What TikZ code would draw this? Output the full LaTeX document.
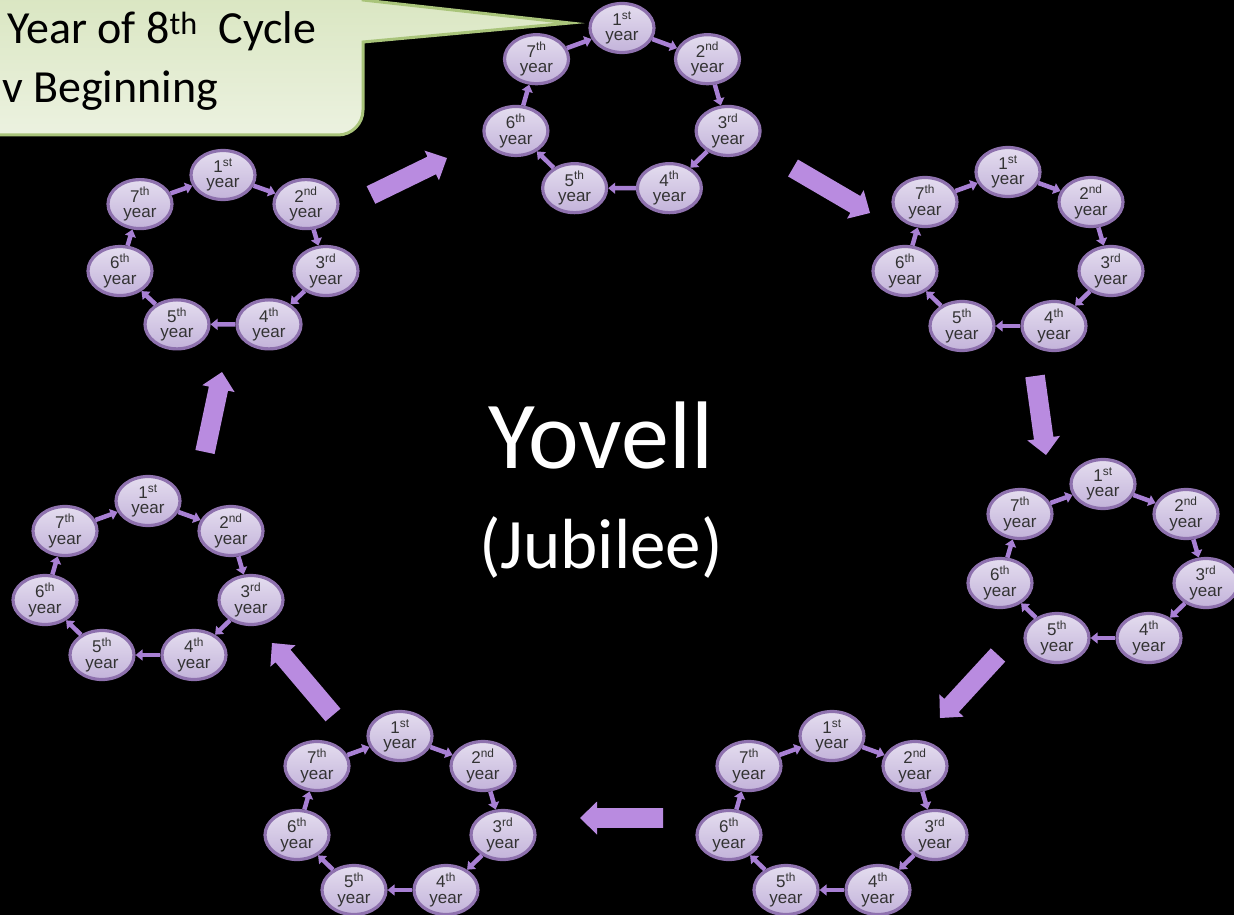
\documentclass[tikz,border=0pt]{standalone}
\usepackage{fontspec}
\setmainfont{Carlito}
\newfontfamily\arialf{Liberation Sans}
\usetikzlibrary{shapes.geometric,calc,arrows.meta}
\definecolor{yrtop}{HTML}{E4DDEF}
\definecolor{yrbot}{HTML}{C3B3DA}
\definecolor{ringc}{HTML}{8E71AE}
\definecolor{yrtext}{HTML}{333333}
\definecolor{linkc}{HTML}{A880D4}
\definecolor{bigc}{HTML}{B98BE0}
\definecolor{calt}{HTML}{D5E3BA}
\definecolor{calb}{HTML}{ECF2E0}
\definecolor{calborder}{HTML}{A9C47A}
\tikzset{
  yr/.style={ellipse, minimum width=64pt, minimum height=49pt, inner sep=0pt,
    draw=ringc, line width=3.2pt, top color=yrtop, bottom color=yrbot,
    font=\arialf\fontsize{17}{15.5}\selectfont, text=yrtext, align=center},
  smallarr/.style={draw=linkc, line width=4.5pt, -{Triangle[length=7pt,width=11pt]}},
  bigfill/.style={fill=bigc},
  bigtext/.style={text=white, anchor=base, inner sep=0pt},
  caltext/.style={text=black, anchor=base west, inner sep=0pt, font=\fontsize{46}{56}\selectfont},
}
\newcommand\yearcycle[5]{%
  \begin{scope}[shift={(#2,#3)}, xscale=#4, yscale=#5]
    \node[yr] (#1-1) at (0,0) {1\textsuperscript{st}\\year};
    \node[yr] (#1-2) at (83,30) {2\textsuperscript{nd}\\year};
    \node[yr] (#1-3) at (103,99) {3\textsuperscript{rd}\\year};
    \node[yr] (#1-4) at (46,154) {4\textsuperscript{th}\\year};
    \node[yr] (#1-5) at (-46,154) {5\textsuperscript{th}\\year};
    \node[yr] (#1-6) at (-103,99) {6\textsuperscript{th}\\year};
    \node[yr] (#1-7) at (-83,30) {7\textsuperscript{th}\\year};
    \draw[smallarr] (#1-1) -- (#1-2);
    \draw[smallarr] (#1-2) -- (#1-3);
    \draw[smallarr] (#1-3) -- (#1-4);
    \draw[smallarr] (#1-4) -- (#1-5);
    \draw[smallarr] (#1-5) -- (#1-6);
    \draw[smallarr] (#1-6) -- (#1-7);
    \draw[smallarr] (#1-7) -- (#1-1);
  \end{scope}}
\newcommand\bigarr[2]{%
  \coordinate (tmpb) at ($(#2)!17pt!(#1)$);
  \fill[bigfill] ($(#1)!9.8pt!90:(#2)$) -- ($(tmpb)!9.8pt!-90:(#1)$)
    -- ($(tmpb)!16.5pt!-90:(#1)$) -- (#2) -- ($(tmpb)!16.5pt!90:(#1)$)
    -- ($(tmpb)!9.8pt!90:(#1)$) -- ($(#1)!9.8pt!-90:(#2)$) -- cycle;}
\begin{document}
\begin{tikzpicture}[x=1pt, y=-1pt]
  \useasboundingbox (0,0) rectangle (1234,915);
  \fill[black] (0,0) rectangle (1234,915);
  \clip (0,0) rectangle (1234,915);

  % callout
  \path[top color=calt, bottom color=calb, draw=calborder, line width=3pt]
    (-40,-40) -- (363,-40) -- (363,0) -- (570,23) -- (363,42) -- (363,110)
    arc[start angle=0, end angle=-90, radius=25pt] -- (-40,135) -- cycle;
  \node[caltext] (cl1) at (7,44) {Year of 8\textsuperscript{th}\ \ Cycle};
  \node[caltext] (cl2) at (2,103) {v Beginning};

  % cycles
  \yearcycle{A}{622}{28}{1.03}{1.04}
  \yearcycle{B}{1008}{172}{1}{1}
  \yearcycle{C}{1103}{484}{1}{1}
  \yearcycle{D}{832}{736}{1}{1}
  \yearcycle{E}{400}{736}{1}{1}
  \yearcycle{F}{148}{501}{1}{1}
  \yearcycle{G}{223}{175}{1}{0.97}

  % big arrows
  \coordinate (t1) at (371,195); \coordinate (h1) at (447,158);
  \coordinate (t2) at (793,168); \coordinate (h2) at (870,213);
  \coordinate (t3) at (1035,376); \coordinate (h3) at (1046,455);
  \coordinate (t4) at (998,655); \coordinate (h4) at (940,718);
  \coordinate (t5) at (663,818); \coordinate (h5) at (580,818);
  \coordinate (t6) at (333,715); \coordinate (h6) at (272,643);
  \coordinate (t7) at (205,452); \coordinate (h7) at (222,372);
  \bigarr{t1}{h1}
  \bigarr{t2}{h2}
  \bigarr{t3}{h3}
  \bigarr{t4}{h4}
  \bigarr{t5}{h5}
  \bigarr{t6}{h6}
  \bigarr{t7}{h7}

  % centre text
  \node[bigtext, font=\fontsize{96}{110}\selectfont] (yov) at (601,468) {Yovell};
  \node[bigtext, font=\fontsize{71}{80}\selectfont] (jub) at (601,568) {(Jubilee)};
\end{tikzpicture}
\end{document}
